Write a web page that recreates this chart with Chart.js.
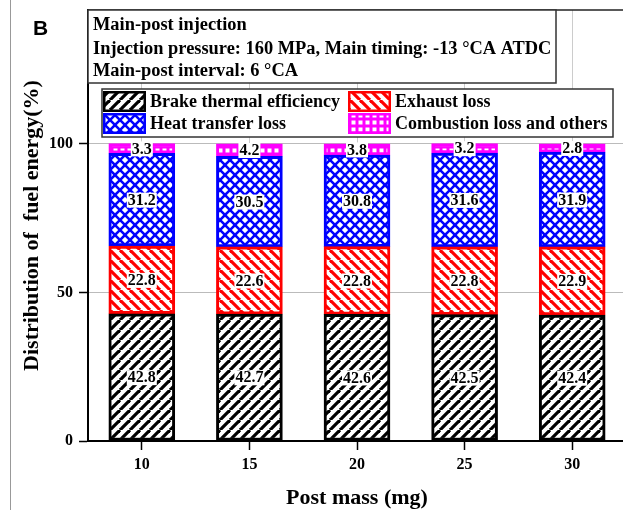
<!DOCTYPE html>
<html>
<head>
<meta charset="utf-8">
<script src="https://cdn.jsdelivr.net/npm/chart.js@4.4.1/dist/chart.umd.min.js"></script>
<style>
  html, body { margin: 0; padding: 0; background: #fff; overflow: hidden; }
  #wrap { width: 623px; height: 510px; overflow: hidden; position: relative; }
  #wrap canvas { position: absolute; left: 0; top: 0; }
</style>
</head>
<body>
<div id="wrap"><canvas id="chart" width="626" height="510"></canvas></div>
<script>
// data
const postMass = ['10', '15', '20', '25', '30'];
const brakeThermal = [42.8, 42.7, 42.6, 42.5, 42.4];
const exhaustLoss = [22.8, 22.6, 22.8, 22.8, 22.9];
const heatTransfer = [31.2, 30.5, 30.8, 31.6, 31.9];
const combustionLoss = [3.3, 4.2, 3.8, 3.2, 2.8];
const yTicks = [0, 50, 100];
const noteLines = [
  'Main-post injection',
  'Injection pressure: 160 MPa, Main timing: -13 °CA ATDC',
  'Main-post interval: 6 °CA'
];

const serif = '"Liberation Serif", "Times New Roman", serif';
const ctx = document.getElementById('chart').getContext('2d');

// hatch fills
function makePattern(size, draw) {
  const c = document.createElement('canvas');
  c.width = size; c.height = size;
  const g = c.getContext('2d');
  draw(g, size);
  return ctx.createPattern(c, 'repeat');
}
function lines(g, segs, color, w) {
  g.strokeStyle = color; g.lineWidth = w;
  segs.forEach(s => { g.beginPath(); g.moveTo(s[0], s[1]); g.lineTo(s[2], s[3]); g.stroke(); });
}
const fwd = s => [[-s, s, 0, 0], [0, s, s, 0], [s, s, 2 * s, 0]];
const back = s => [[-s, 0, 0, s], [0, 0, s, s], [s, 0, 2 * s, s]];

const blackHatch = makePattern(10, (g, s) => {
  g.fillStyle = '#fff'; g.fillRect(0, 0, s, s);
  lines(g, fwd(s), '#000', 3.2);
});
const redHatch = makePattern(10, (g, s) => {
  g.fillStyle = '#fff'; g.fillRect(0, 0, s, s);
  lines(g, back(s), '#ff0000', 3.2);
});
const blueCross = makePattern(10, (g, s) => {
  g.fillStyle = '#fff'; g.fillRect(0, 0, s, s);
  lines(g, fwd(s).concat(back(s)), '#0000ff', 2.6);
});
const magentaGrid = makePattern(7, (g, s) => {
  g.fillStyle = '#ff00ff'; g.fillRect(0, 0, s, s);
  g.fillStyle = '#fff'; g.fillRect(1.5, 1.5, 4, 4);
});

const valueLabels = {
  id: 'valueLabels',
  afterDatasetsDraw(chart) {
    const c = chart.ctx;
    c.save();
    c.font = 'bold 16px ' + serif;
    c.textAlign = 'center';
    c.textBaseline = 'middle';
    chart.data.datasets.forEach((ds, i) => {
      chart.getDatasetMeta(i).data.forEach((bar, j) => {
        const txt = ds.data[j].toFixed(1);
        const y = (bar.y + bar.base) / 2;
        const w = c.measureText(txt).width;
        c.fillStyle = '#fff';
        c.fillRect(bar.x - w / 2 - 1, y - 7, w + 2, 15);
        c.fillStyle = '#000';
        c.fillText(txt, bar.x, y + 1);
      });
    });
    c.restore();
  }
};

const decorations = {
  id: 'decorations',
  afterDraw(chart) {
    const c = chart.ctx;
    const a = chart.chartArea;
    c.save();
    // panel edge and frame top
    c.strokeStyle = '#999'; c.lineWidth = 1;
    c.beginPath(); c.moveTo(10.5, 0); c.lineTo(10.5, 510); c.stroke();
    c.strokeStyle = '#222'; c.lineWidth = 1.5;
    c.beginPath(); c.moveTo(a.left, a.top); c.lineTo(a.right, a.top); c.stroke();

    // panel letter
    c.fillStyle = '#000';
    c.font = 'bold 21px "Liberation Sans", Arial, sans-serif';
    c.textBaseline = 'alphabetic';
    c.fillText('B', 33, 35);

    // note box
    c.fillStyle = '#fff';
    c.fillRect(88, 10, 468, 73);
    c.strokeStyle = '#333'; c.lineWidth = 1.5;
    c.strokeRect(88, 10, 468, 73);
    c.fillStyle = '#000';
    c.font = 'bold 18.4px ' + serif;
    [30, 54, 76].forEach((y, i) => c.fillText(noteLines[i], 93, y));

    // legend box
    c.font = 'bold 18px ' + serif;
    c.fillStyle = '#fff';
    c.fillRect(102, 89, 511, 48);
    c.strokeRect(102, 89, 511, 48);
    const spots = [[103, 91], [348, 91], [103, 113], [348, 113]];
    chart.data.datasets.forEach((ds, i) => {
      const [x, y] = spots[i];
      c.fillStyle = ds.backgroundColor;
      c.fillRect(x, y, 43, 21);
      c.strokeStyle = ds.borderColor; c.lineWidth = 2.5;
      c.strokeRect(x + 1.25, y + 1.25, 40.5, 18.5);
      c.fillStyle = '#000';
      c.textBaseline = 'middle';
      c.fillText(ds.label, x + 47, y + 11);
    });
    c.restore();
  }
};

new Chart(ctx, {
  type: 'bar',
  data: {
    labels: postMass,
    datasets: [
      { label: 'Brake thermal efficiency', data: brakeThermal, backgroundColor: blackHatch, borderColor: '#000' },
      { label: 'Exhaust loss', data: exhaustLoss, backgroundColor: redHatch, borderColor: '#ff0000' },
      { label: 'Heat transfer loss', data: heatTransfer, backgroundColor: blueCross, borderColor: '#0000ff' },
      { label: 'Combustion loss and others', data: combustionLoss, backgroundColor: magentaGrid, borderColor: '#ff00ff' }
    ]
  },
  options: {
    responsive: false,
    animation: false,
    layout: { padding: { top: 10, left: 0, right: 0, bottom: 0 } },
    datasets: { bar: { borderWidth: 3, borderSkipped: false, barThickness: 66 } },
    plugins: { legend: { display: false }, tooltip: { enabled: false } },
    scales: {
      x: {
        stacked: true,
        offset: true,
        grid: { offset: false, color: '#cccccc', lineWidth: 1, tickColor: '#000', tickLength: 9, tickWidth: 1.5 },
        border: { color: '#000', width: 2 },
        ticks: { color: '#000', padding: 5, font: { family: serif, size: 16, weight: 'bold' } },
        title: { display: true, text: 'Post mass (mg)', color: '#000', padding: { top: 0, bottom: -2 },
                 font: { family: serif, size: 22, weight: 'bold' } },
        afterFit: s => { s.height = 69; s.paddingLeft = 0; s.paddingRight = 0; }
      },
      y: {
        stacked: true,
        min: 0,
        max: 145,
        grid: { color: '#bbbbbb', lineWidth: 1, tickColor: '#000', tickLength: 9, tickWidth: 1.5 },
        border: { color: '#000', width: 2 },
        afterBuildTicks: s => { s.ticks = yTicks.map(v => ({ value: v })); },
        ticks: { color: '#000', padding: 6, font: { family: serif, size: 16, weight: 'bold' } },
        title: { display: true, text: 'Distribution of  fuel energy(%)', color: '#000', padding: { top: 19, bottom: 0 },
                 font: { family: serif, size: 22, weight: 'bold' } },
        afterFit: s => { s.width = 88; s.paddingTop = 0; s.paddingBottom = 0; }
      }
    }
  },
  plugins: [valueLabels, decorations]
});
</script>
</body>
</html>
